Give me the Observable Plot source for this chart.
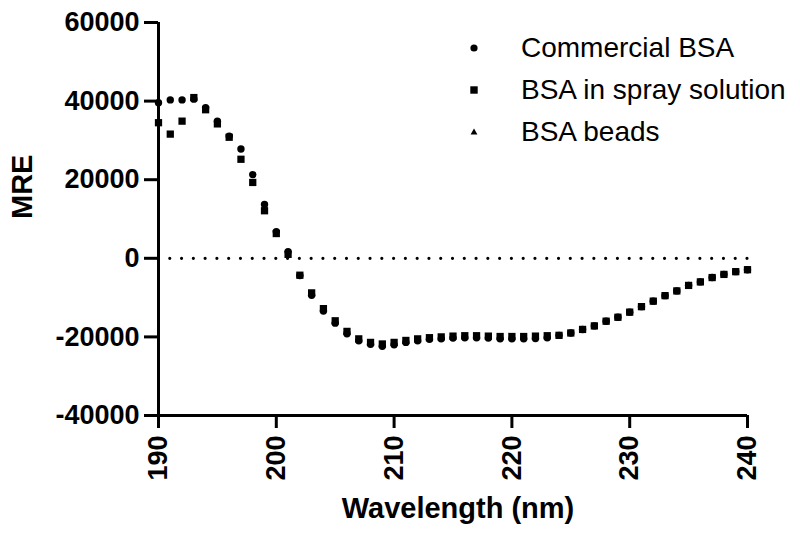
<!DOCTYPE html>
<html>
<head>
<meta charset="utf-8">
<script src="https://cdn.jsdelivr.net/npm/d3@7"></script>
<script src="https://cdn.jsdelivr.net/npm/@observablehq/plot@0.6"></script>
<style>
  html, body { margin: 0; padding: 0; background: white; }
  #wrap { position: relative; width: 800px; height: 546px; }
  #legend { position: absolute; left: 466px; top: 27px; font-family: "Liberation Sans", Arial, sans-serif; font-size: 28px; color: black; }
  .row { display: flex; align-items: center; height: 42px; line-height: 42px; white-space: nowrap; }
  .row svg { width: 16px; height: 16px; flex: none; }
  .row span { margin-left: 39px; }
</style>
</head>
<body>
<div id="wrap"><div id="legend"></div></div>
<script>
const wavelengths = [190,191,192,193,194,195,196,197,198,199,200,201,202,203,204,205,206,207,208,209,210,211,212,213,214,215,216,217,218,219,220,221,222,223,224,225,226,227,228,229,230,231,232,233,234,235,236,237,238,239,240];
const commercialBSA = [39600,40300,40300,40500,38300,34900,31100,27800,21300,13700,6800,1700,-4400,-9400,-13400,-16500,-19200,-21000,-21900,-22400,-22000,-21400,-21000,-20600,-20500,-20300,-20200,-20200,-20300,-20500,-20500,-20500,-20400,-20200,-19600,-19000,-18100,-17200,-16000,-15000,-13700,-12300,-10900,-9500,-8300,-6900,-6000,-4900,-4100,-3400,-2900];
const spraySolutionBSA = [34500,31600,34900,40900,37800,34200,30800,25200,19300,12100,6300,1000,-4300,-8800,-12800,-15900,-18600,-20500,-21400,-21800,-21400,-20900,-20500,-20200,-20000,-19800,-19700,-19700,-19800,-19900,-19900,-19900,-19800,-19700,-19600,-19000,-18100,-17200,-16000,-15000,-13700,-12300,-10900,-9500,-8300,-6900,-6000,-4900,-4100,-3400,-2900];
const seriesNames = ["Commercial BSA", "BSA in spray solution", "BSA beads"];
const seriesSymbols = ["circle", "square", "triangle"];
const yTicks = [-40000, -20000, 0, 20000, 40000, 60000];
const xTicks = [190, 200, 210, 220, 230, 240];

const commercial = wavelengths.map((w, i) => ({w, v: commercialBSA[i]}));
const spray = wavelengths.map((w, i) => ({w, v: spraySolutionBSA[i]}));

const W = 800, H = 546, ML = 158, MR = 53, MT = 22, MB = 131;
const step = (W - ML - MR) / (wavelengths[wavelengths.length - 1] - wavelengths[0]);

const chart = Plot.plot({
  width: W, height: H,
  marginLeft: ML, marginRight: MR, marginTop: MT, marginBottom: MB,
  x: {domain: [190, 240]},
  y: {domain: [-40000, 60000]},
  style: {fontFamily: "'Liberation Sans', Arial, sans-serif", color: "black", background: "white", overflow: "visible"},
  marks: [
    Plot.ruleY([0], {strokeDasharray: `0 ${step}`, strokeLinecap: "round", strokeWidth: 3.2}),
    Plot.axisY({ticks: yTicks, tickSize: 14, tickPadding: 5, strokeWidth: 3, fontSize: 27, fontWeight: "bold", tickFormat: d => String(d), label: null}),
    Plot.axisX({ticks: xTicks, tickSize: 13, tickPadding: 7, strokeWidth: 3, fontSize: 27, fontWeight: "bold", tickRotate: -90, tickFormat: d => String(d), label: null}),
    Plot.ruleX([190], {strokeWidth: 3}),
    Plot.ruleY([-40000], {strokeWidth: 3}),
    Plot.dot(commercial, {x: "w", y: "v", symbol: "circle", r: 3.7, fill: "black", stroke: "none"}),
    Plot.dot(spray, {x: "w", y: "v", symbol: "square", r: 4.1, fill: "black", stroke: "none"}),
    Plot.text(["MRE"], {text: d => d, frameAnchor: "left", dx: -136, rotate: -90, fontSize: 29, fontWeight: "bold", fill: "black"}),
    Plot.text(["Wavelength (nm)"], {text: d => d, frameAnchor: "bottom", dy: 102, dx: 5, fontSize: 29, fontWeight: "bold", fill: "black"})
  ]
});
document.getElementById("wrap").prepend(chart);

const symPaths = {
  circle: '<circle cx="8" cy="8" r="3.6" fill="black"/>',
  square: '<rect x="4.3" y="4.3" width="7.4" height="7.4" fill="black"/>',
  triangle: '<path d="M8 4.6 L11.4 10.6 L4.6 10.6 Z" fill="black"/>'
};
const legend = document.getElementById("legend");
seriesNames.forEach((name, i) => {
  const row = document.createElement("div");
  row.className = "row";
  row.innerHTML = `<svg viewBox="0 0 16 16">${symPaths[seriesSymbols[i]]}</svg><span>${name}</span>`;
  legend.appendChild(row);
});
</script>
</body>
</html>
